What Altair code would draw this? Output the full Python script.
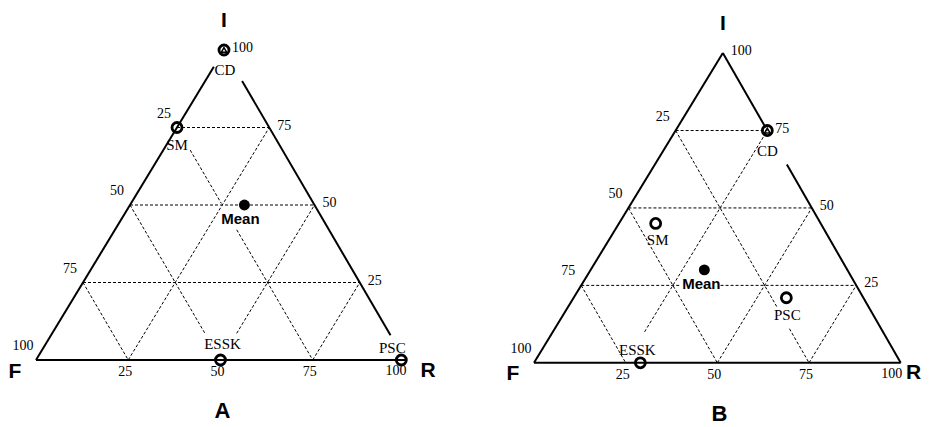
import altair as alt
import pandas as pd

# ---------------- data ----------------
names = ["CD", "SM", "Mean", "ESSK", "PSC"]
# panel A  (F + I + R = 100)
a_F = [0, 25, 19, 50, 1]
a_I = [100, 75, 50, 0, 0]
a_R = [0, 0, 31, 50, 99]
# panel B
b_F = [0, 45, 39, 71, 21]
b_I = [75, 45, 30, 0, 21]
b_R = [25, 10, 31, 29, 58]

tick_values = ["25", "50", "75", "100"]
panel_letters = ["A", "B"]

# dashed grid segments as ternary end points (I1, R1, I2, R2); gaps where labels sit
a_grid = [
    (75, 0, 75, 25), (50, 0, 50, 50), (25, 0, 25, 75),
    (0, 25, 75, 25), (8.6, 50, 50, 50), (0, 75, 25, 75),
    (67.7, 7.3, 50.5, 24.5), (42, 33, 0, 75),
    (50, 0, 8.6, 41.4), (25, 0, 0, 25),
]
b_grid = [
    (75, 0, 75, 25), (50, 0, 50, 50), (25, 0, 25, 27), (25, 38, 25, 75),
    (10, 25, 75, 25), (0, 50, 50, 50), (0, 75, 25, 75),
    (75, 0, 18, 57), (11, 64, 0, 75),
    (50, 0, 0, 50), (25, 0, 0, 25),
]
# solid triangle edges (I1, R1, I2, R2)
a_edges = [(0, 0, 94.6, 0), (90, 10, 8, 92), (0, 0, 0, 100)]
b_edges = [(0, 0, 100, 0), (100, 0, 76, 24), (64, 36, 0, 100), (0, 0, 0, 100)]

# ---------------- layout ----------------
H = 410
W_A = 457
W_B = 458
SERIF = "Liberation Serif"
SANS = "Liberation Sans"


def panel(F, I, R, grid, edges, geom, letter, ox, W):
    x0, sx, y0, sy, shear_px = geom
    x0l = x0 - ox
    y0l = y0 - 8
    xs = alt.Scale(domain=[-x0l / sx, (W - x0l) / sx], nice=False, zero=False)
    ys = alt.Scale(domain=[(y0l - H) / sy, y0l / sy], nice=False, zero=False)
    sh = shear_px / sx

    def X(i, r):
        return r + i / 2 + sh * i / 100

    def enc_xy(xf="x", yf="y"):
        return dict(
            x=alt.X(f"{xf}:Q", scale=xs, axis=None),
            y=alt.Y(f"{yf}:Q", scale=ys, axis=None),
        )

    def seg_df(segs):
        return pd.DataFrame(
            [dict(x=X(i1, r1), y=i1, x2=X(i2, r2), y2=i2) for i1, r1, i2, r2 in segs]
        )

    gdf = seg_df(grid)
    edf = seg_df(edges)
    pts = pd.DataFrame(dict(name=names, F=F, I=I, R=R))
    pts["x"] = [X(i, r) for i, r in zip(pts.I, pts.R)]
    pts["y"] = pts.I

    layers = []
    layers.append(
        alt.Chart(gdf).mark_rule(color="black", strokeWidth=1, strokeDash=[3, 2]).encode(
            **enc_xy(), x2="x2:Q", y2="y2:Q")
    )
    layers.append(
        alt.Chart(edf).mark_rule(color="black", strokeWidth=2).encode(
            **enc_xy(), x2="x2:Q", y2="y2:Q")
    )
    layers.append(
        alt.Chart(pts).transform_filter("datum.name != 'Mean'")
        .mark_point(shape="circle", filled=False, size=100, strokeWidth=2.8, color="black", opacity=1)
        .encode(**enc_xy())
    )
    layers.append(
        alt.Chart(pts).transform_filter("datum.name == 'CD'")
        .mark_point(shape="triangle-up", filled=False, size=30, strokeWidth=1.5, color="black", opacity=1)
        .encode(**enc_xy())
    )
    layers.append(
        alt.Chart(pts).transform_filter("datum.name == 'Mean'")
        .mark_point(shape="circle", filled=True, size=120, color="black", opacity=1)
        .encode(**enc_xy())
    )
    # point labels
    offs = {
        "A": {"CD": (1, 20), "SM": (0, 17), "Mean": (-4, 14), "ESSK": (2, -16), "PSC": (-9, -12)},
        "B": {"CD": (0, 20), "SM": (2, 17), "Mean": (-3, 14), "ESSK": (-3, -13), "PSC": (1, 17)},
    }[letter]
    for n in names:
        dx, dy = offs[n]
        if n == "Mean":
            mk = alt.Chart(pts).transform_filter(f"datum.name == '{n}'").mark_text(
                font=SANS, fontWeight="bold", fontSize=15, dx=dx, dy=dy, color="black")
        else:
            mk = alt.Chart(pts).transform_filter(f"datum.name == '{n}'").mark_text(
                font=SERIF, fontSize=15, dx=dx, dy=dy, color="black")
        layers.append(mk.encode(**enc_xy(), text="name:N"))

    # tick labels
    vals = [int(v) for v in tick_values]
    left = pd.DataFrame(dict(t=tick_values, x=[X(100 - v, 0) for v in vals], y=[100 - v for v in vals]))
    right = pd.DataFrame(dict(t=tick_values, x=[X(v, 100 - v) for v in vals], y=vals))
    bottom = pd.DataFrame(dict(t=tick_values, x=[X(0, v) for v in vals], y=[0] * 4))
    layers.append(alt.Chart(left).mark_text(font=SERIF, fontSize=14, dx=-13, dy=-14, color="black")
                  .encode(**enc_xy(), text="t:N"))
    layers.append(alt.Chart(right).mark_text(font=SERIF, fontSize=14, align="left", dx=8, dy=-2, color="black")
                  .encode(**enc_xy(), text="t:N"))
    layers.append(alt.Chart(bottom).transform_filter("datum.t != '100'")
                  .mark_text(font=SERIF, fontSize=14, dx=-3, dy=12, color="black")
                  .encode(**enc_xy(), text="t:N"))
    layers.append(alt.Chart(bottom).transform_filter("datum.t == '100'")
                  .mark_text(font=SERIF, fontSize=14, dx=-9, dy=11, color="black")
                  .encode(**enc_xy(), text="t:N"))

    # vertex labels and panel letter
    verts = pd.DataFrame(dict(t=["F", "I", "R"], x=[X(0, 0), X(100, 0), X(0, 100)], y=[0, 100, 0]))
    vo = {
        "A": {"F": (-21, 12), "I": (0, -29), "R": (23, 11)},
        "B": {"F": (-21, 11), "I": (0, -29), "R": (13, 10)},
    }[letter]
    for v in ["F", "I", "R"]:
        dx, dy = vo[v]
        layers.append(alt.Chart(verts).transform_filter(f"datum.t == '{v}'")
                      .mark_text(font=SANS, fontWeight="bold", fontSize=21, dx=dx, dy=dy, color="black")
                      .encode(**enc_xy(), text="t:N"))
    let = pd.DataFrame(dict(t=[letter], x=[X(0, 50)], y=[0]))
    layers.append(alt.Chart(let).mark_text(font=SANS, fontWeight="bold", fontSize=22, dx=2, dy=51, color="black")
                  .encode(**enc_xy(), text="t:N"))

    return alt.layer(*layers).properties(width=W, height=H)


geom_a = (36, 3.69, 360, 3.10, 3.5)
geom_b = (534, 3.667, 362.8, 3.097, 5.5)

pa = panel(a_F, a_I, a_R, a_grid, a_edges, geom_a, panel_letters[0], 8, W_A)
pb = panel(b_F, b_I, b_R, b_grid, b_edges, geom_b, panel_letters[1], 8 + W_A, W_B)

chart = (
    alt.hconcat(pa, pb, spacing=0)
    .properties(padding=0, background="white")
    .configure_view(stroke=None)
)
chart.save("out.html", embed_options={"renderer": "svg", "actions": False})
